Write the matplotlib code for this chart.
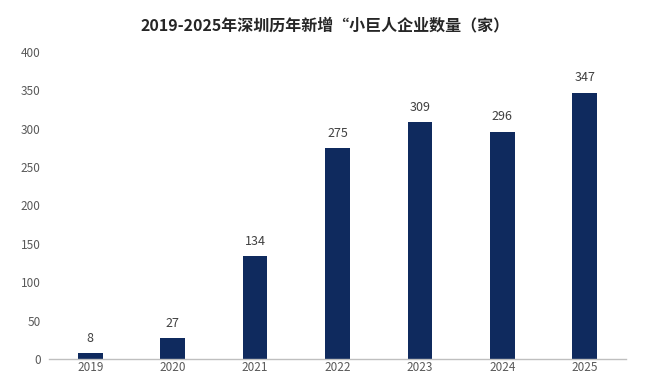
import matplotlib
matplotlib.use("Agg")
import matplotlib.pyplot as plt

plt.rcParams['font.family'] = ['Noto Sans CJK SC', 'DejaVu Sans']

years = ["2019", "2020", "2021", "2022", "2023", "2024", "2025"]
counts = [8, 27, 134, 275, 309, 296, 347]
yticks = [0, 50, 100, 150, 200, 250, 300, 350, 400]
title = "2019-2025年深圳历年新增“小巨人企业数量（家）"

fig = plt.figure(figsize=(6.65, 3.74), dpi=100)
ax = fig.add_axes([49 / 665, 1 - 359 / 374, 577 / 665, (359 - 52) / 374])

x = list(range(len(years)))
bar_color = "#0f2a5e"
ax.bar(x, counts, width=0.30, color=bar_color)
for xi, v in zip(x, counts):
    ax.annotate(str(v), (xi, v), xytext=(0, 6), textcoords="offset points",
                ha="center", va="bottom", fontsize=9, color="#404040")

ax.set_xlim(-0.5, 6.5)
ax.set_ylim(0, 400)
ax.set_yticks(yticks)
ax.set_xticks(x)
ax.set_xticklabels(years)
ax.tick_params(axis="both", length=0, labelsize=8.5, labelcolor="#595959")
ax.tick_params(axis="y", pad=6)
ax.tick_params(axis="x", pad=1.5)
for s in ["top", "right", "left"]:
    ax.spines[s].set_visible(False)
ax.spines["bottom"].set_color("#bfbfbf")
ax.spines["bottom"].set_linewidth(1)

fig.text(325 / 665, 1 - 25 / 374, title, ha="center", va="center", fontsize=11.5,
         fontweight="bold", color="#262626")

fig.savefig("out.png", dpi=100)
